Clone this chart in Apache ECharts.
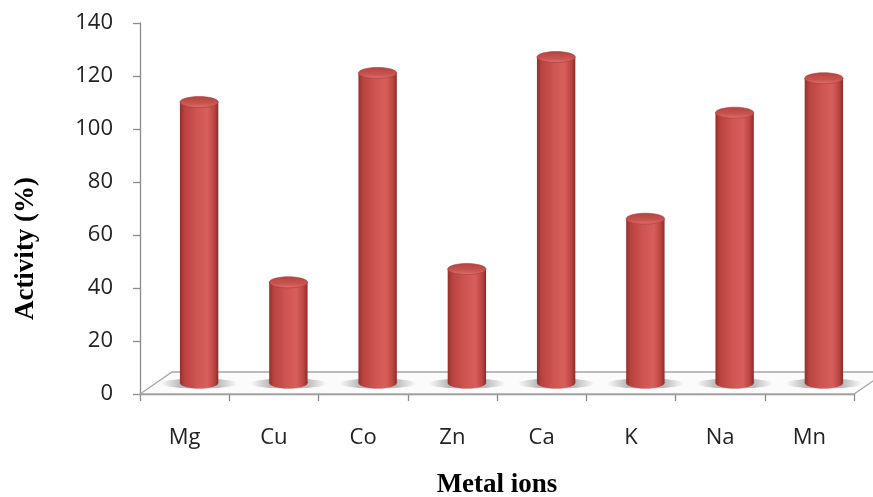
<!DOCTYPE html>
<html>
<head>
<meta charset="utf-8">
<style>
  html, body { margin: 0; padding: 0; background: #ffffff; }
  #chart { width: 873px; height: 497px; }
</style>
<script src="https://cdn.jsdelivr.net/npm/echarts@6/dist/echarts.min.js"></script>
</head>
<body>
<div id="chart"></div>
<script>
// Relative enzyme activity in presence of metal ions
const metals = ['Mg', 'Cu', 'Co', 'Zn', 'Ca', 'K', 'Na', 'Mn'];
const activity = [106, 38, 117, 43, 123, 62, 102, 115];
const yTicks = { min: 0, max: 140, interval: 20 };

// depth offset of the 3-D floor (back edge relative to front edge)
const DEPTH_X = 32, DEPTH_Y = -22;

const chart = echarts.init(document.getElementById('chart'), null, { renderer: 'canvas' });

const axisGray = '#8c8c8c';

function renderFloor(params, api) {
  const cs = params.coordSys;
  const x0 = cs.x, x1 = cs.x + cs.width, y0 = cs.y + cs.height;
  return {
    type: 'polygon',
    shape: {
      points: [
        [x0, y0], [x1, y0],
        [x1 + DEPTH_X, y0 + DEPTH_Y], [x0 + DEPTH_X, y0 + DEPTH_Y]
      ]
    },
    style: { fill: '#fbfbfb', stroke: '#a6a6a6', lineWidth: 1.3 }
  };
}

function renderCylinder(params, api) {
  const idx = api.value(0);
  const v = api.value(1);
  const base = api.coord([idx, 0]);
  const top = api.coord([idx, v]);
  const band = api.size([1, 0])[0];
  const r = band * 0.215;
  const cx = base[0] + DEPTH_X / 2 - 1.5;
  const yb = base[1] + DEPTH_Y / 2;
  const yt = top[1] + DEPTH_Y / 2;
  const ry = 5.5;

  const bodyFill = new echarts.graphic.LinearGradient(0, 0, 1, 0, [
    { offset: 0, color: '#962f2c' },
    { offset: 0.12, color: '#b9433f' },
    { offset: 0.45, color: '#cf5551' },
    { offset: 0.72, color: '#d75f5b' },
    { offset: 0.9, color: '#b94440' },
    { offset: 1, color: '#8e2b28' }
  ]);
  const capFill = new echarts.graphic.LinearGradient(0, 0, 0, 1, [
    { offset: 0, color: '#b34542' },
    { offset: 0.6, color: '#c9524e' },
    { offset: 1, color: '#dc736f' }
  ]);
  const shadowFill = new echarts.graphic.LinearGradient(0, 0, 1, 0, [
    { offset: 0, color: 'rgba(110,110,110,0)' },
    { offset: 0.25, color: 'rgba(110,110,110,0.45)' },
    { offset: 0.75, color: 'rgba(110,110,110,0.45)' },
    { offset: 1, color: 'rgba(110,110,110,0)' }
  ]);

  return {
    type: 'group',
    children: [
      {
        type: 'ellipse',
        shape: { cx: cx, cy: yb + 0.5, rx: r * 2.0, ry: ry - 0.5 },
        style: { fill: shadowFill }
      },
      {
        type: 'ellipse',
        shape: { cx: cx, cy: yb, rx: r, ry: ry },
        style: { fill: bodyFill }
      },
      {
        type: 'rect',
        shape: { x: cx - r, y: yt, width: 2 * r, height: yb - yt },
        style: { fill: bodyFill }
      },
      {
        type: 'ellipse',
        shape: { cx: cx, cy: yt, rx: r, ry: ry },
        style: { fill: capFill, stroke: '#a83d3a', lineWidth: 0.6 }
      }
    ]
  };
}

chart.setOption({
  animation: false,
  backgroundColor: '#ffffff',
  grid: { left: 140, right: 19, top: 23, bottom: 103, containLabel: false, outerBoundsMode: 'none' },
  xAxis: {
    type: 'category',
    data: metals,
    boundaryGap: true,
    name: 'Metal ions',
    nameLocation: 'middle',
    nameGap: 78,
    nameTextStyle: { fontFamily: 'Liberation Serif', fontWeight: 'bold', fontSize: 27, color: '#000' },
    axisLine: { show: true, lineStyle: { color: axisGray, width: 1.3 } },
    axisTick: { show: true, length: 7, alignWithLabel: false, lineStyle: { color: axisGray, width: 1.3 } },
    axisLabel: { fontFamily: 'Open Sans', fontSize: 22, color: '#222', margin: 33 },
    splitLine: { show: false }
  },
  yAxis: {
    type: 'value',
    min: yTicks.min,
    max: yTicks.max,
    interval: yTicks.interval,
    name: 'Activity (%)',
    nameLocation: 'middle',
    nameRotate: 90,
    nameGap: 100,
    nameTextStyle: {
      fontFamily: 'Liberation Serif', fontWeight: 'bold', fontSize: 27, color: '#000',
      padding: [0, 80, 0, 0]
    },
    axisLine: { show: true, lineStyle: { color: axisGray, width: 1.3 } },
    axisTick: { show: true, length: 7, lineStyle: { color: axisGray, width: 1.3 } },
    axisLabel: { fontFamily: 'Open Sans', fontSize: 22, color: '#222', margin: 27 },
    splitLine: { show: false }
  },
  series: [
    {
      type: 'custom',
      name: 'floor',
      z: 1,
      renderItem: renderFloor,
      data: [[0, 0]],
      silent: true
    },
    {
      type: 'custom',
      name: 'Activity',
      z: 3,
      renderItem: renderCylinder,
      encode: { x: 0, y: 1 },
      data: metals.map((m, i) => [i, activity[i]])
    }
  ]
});
</script>
</body>
</html>
